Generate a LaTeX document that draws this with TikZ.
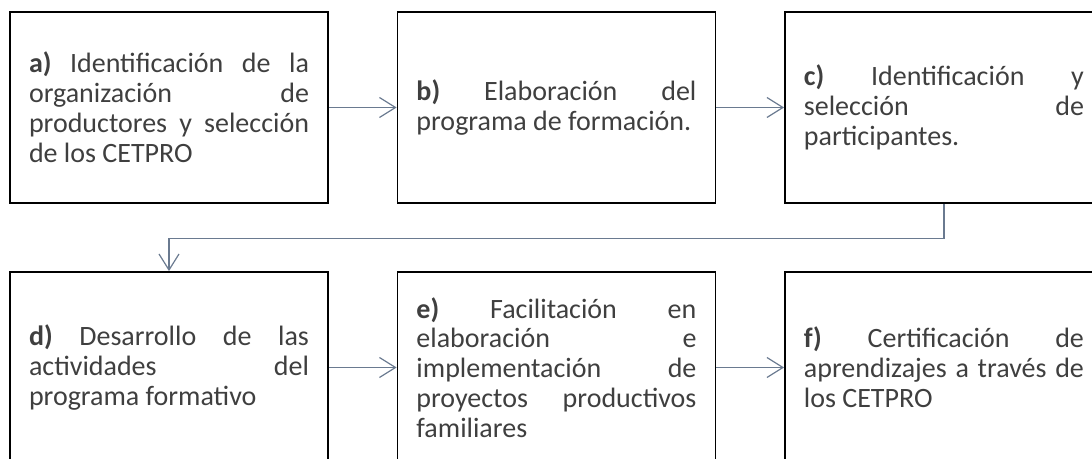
\documentclass[tikz,border=0pt]{standalone}
\usepackage{fontspec}
\setmainfont{Carlito}
\usetikzlibrary{shapes,arrows.meta}
\definecolor{textgray}{HTML}{3F3F3F}
\definecolor{linkgray}{HTML}{6A7A90}
\hyphenpenalty=10000
\tolerance=10000

\begin{document}
\begin{tikzpicture}[x=0.75pt,y=0.75pt]
            % page frame, the boxes on the right and at the bottom run past it
            \path[use as bounding box,clip] (0,0) rectangle (1092,459);
            \tikzstyle{block} = [draw,rectangle,line width=1.3pt,minimum width=238.5pt,minimum height=143.25pt,text width=210pt,align=justify,inner sep=0pt,font=\fontsize{21}{22.4}\selectfont,text=textgray];
            \tikzstyle{link} = [-{Straight Barb[length=12pt,width=15pt]},linkgray,line width=0.9pt];

            \node[block] (a) at (169,351.5) {\textbf{a)} Identificación de la\linebreak organización de\linebreak productores y selección\linebreak de los CETPRO};
            \node[block,right of=a,node distance=290.6pt] (b) {\textbf{b)} Elaboración del\linebreak programa de formación.};
            \node[block,right of=b,node distance=290.6pt] (c) {\textbf{c)} Identificación y\linebreak selección de\linebreak participantes.};
            \node[block,below of=a,node distance=195pt] (d) {\textbf{d)} Desarrollo de las\linebreak actividades del\linebreak programa formativo};
            \node[block,right of=d,node distance=290.6pt] (e) {\textbf{e)} Facilitación en\linebreak elaboración e\linebreak implementación de\linebreak proyectos productivos\linebreak familiares};
            \node[block,right of=e,node distance=290.6pt] (f) {\textbf{f)} Certificación de\linebreak aprendizajes a través de\linebreak los CETPRO};

            \draw[link] (a) -- (b);
            \draw[link] (b) -- (c);
            \draw[link] (c.south) -- ++(0,-35) -| (d.north);
            \draw[link] (d) -- (e);
            \draw[link] (e) -- (f);

        \end{tikzpicture}
\end{document}
